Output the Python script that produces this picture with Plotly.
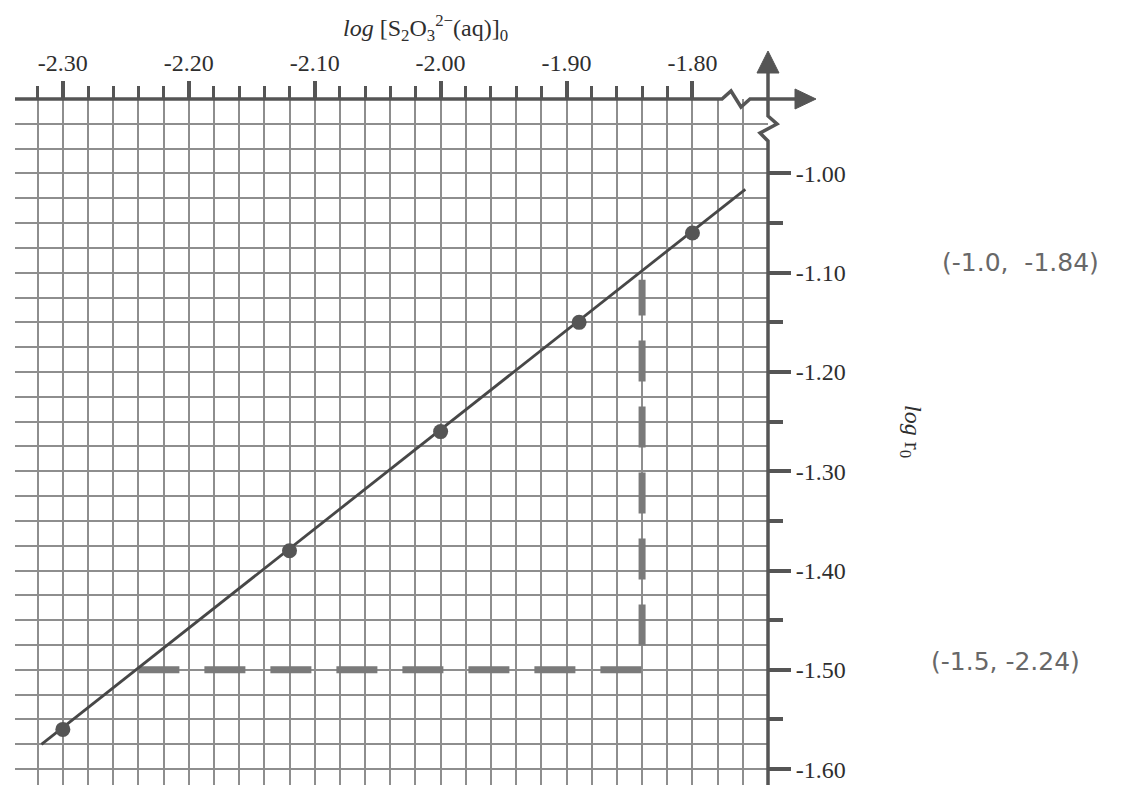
import plotly.graph_objects as go

# ---------------- data ----------------
log_s2o3 = [-2.30, -2.12, -2.00, -1.89, -1.80]      # log [S2O3 2-(aq)]0
log_r0 = [-1.56, -1.38, -1.26, -1.15, -1.06]        # log r0
fit_x = [-2.317, -1.758]                            # best-fit line ends
fit_y = [-1.575, -1.016]
guide_x = [-2.24, -1.84, -1.84]                     # dashed read-off guide
guide_y = [-1.50, -1.50, -1.107]

x_major = [-2.30, -2.20, -2.10, -2.00, -1.90, -1.80]
x_major_text = ["-2.30", "-2.20", "-2.10", "-2.00", "-1.90", "-1.80"]
x_minor = [-2.32, -2.28, -2.26, -2.24, -2.22, -2.18, -2.16, -2.14, -2.12,
           -2.08, -2.06, -2.04, -2.02, -1.98, -1.96, -1.94, -1.92,
           -1.88, -1.86, -1.84, -1.82]
y_major = [-1.00, -1.10, -1.20, -1.30, -1.40, -1.50, -1.60]
y_major_text = ["-1.00", "-1.10", "-1.20", "-1.30", "-1.40", "-1.50", "-1.60"]
y_minor = [-1.05, -1.15, -1.25, -1.35, -1.45, -1.55]

x_title = "<i>log</i> [S<sub>2</sub>O<sub>3</sub><sup>2−</sup>(aq)]<sub>0</sub>"
y_title = "<i>log</i> r<sub>0</sub>"
notes = ["(-1.0,  -1.84)", "(-1.5, -2.24)"]

X_RANGE = [-2.338, -1.74]
Y_RANGE = [-1.616, -0.925]

# ---------------- layout geometry ----------------
# the page body has an 8px margin, so the figure is shifted by that amount
BODY = 8
W, H = 1127, 785                 # window
ML, MR, MT, MB = 15, 359, 99, 0  # plot area in window pixels
PW, PH = W - ML - MR, H - MT - MB


def px(xp):
    return (xp - ML) / PW


def py(yp):
    return (H - MB - yp) / PH


def path(points, close=False):
    s = "M" + " L".join(f"{px(a):.5f},{py(b):.5f}" for a, b in points)
    return s + (" Z" if close else "")


AX = "#555555"
GRID = "#8e8e8e"
TXT = "#2e2e2e"
SERIF = "Liberation Serif"

fig = go.Figure()

# invisible trace to carry the overlay (grid) axes
fig.add_trace(go.Scatter(x=X_RANGE, y=Y_RANGE, xaxis="x2", yaxis="y2",
                         mode="markers", marker=dict(opacity=0),
                         hoverinfo="skip", showlegend=False))

fig.add_trace(go.Scatter(x=guide_x, y=guide_y, mode="lines",
                         line=dict(color="#7a7a7a", width=7, dash="41px,25px"),
                         showlegend=False, hoverinfo="skip"))
fig.add_trace(go.Scatter(x=fit_x, y=fit_y, mode="lines",
                         line=dict(color="#474747", width=2.8),
                         showlegend=False))
fig.add_trace(go.Scatter(x=log_s2o3, y=log_r0, mode="markers",
                         marker=dict(color="#555555", size=15),
                         showlegend=False))

shapes = [
    # x axis with break and arrow
    dict(type="path", path=path([(ML, 99), (722, 99), (731, 91), (741, 107),
                                 (750, 99), (798, 99)]),
         line=dict(color=AX, width=3.5)),
    dict(type="path", path=path([(795, 89), (816, 99), (795, 109)], True),
         fillcolor=AX, line=dict(color=AX, width=1)),
    # y axis with break and arrow
    dict(type="path", path=path([(768, 70), (768, 116), (777, 124), (760, 133),
                                 (768, 141), (768, H)]),
         line=dict(color=AX, width=3.5)),
    dict(type="path", path=path([(757, 73), (768, 51), (779, 73)], True),
         fillcolor=AX, line=dict(color=AX, width=1)),
]
for s in shapes:
    s.update(xref="paper", yref="paper", layer="above")

annotations = [
    dict(text=x_title, x=px(426), y=py(28), xref="paper", yref="paper",
         showarrow=False, font=dict(family=SERIF, size=24, color=TXT),
         xanchor="center", yanchor="middle"),
    dict(text=y_title, x=px(911), y=py(431), xref="paper", yref="paper",
         showarrow=False, textangle=90, font=dict(family=SERIF, size=24, color=TXT),
         xanchor="center", yanchor="middle"),
    dict(text=notes[0], x=px(1021), y=py(263), xref="paper", yref="paper",
         showarrow=False, font=dict(family="DejaVu Sans", size=25, color="#686868"),
         xanchor="center", yanchor="middle"),
    dict(text=notes[1], x=px(1005), y=py(661), xref="paper", yref="paper",
         showarrow=False, font=dict(family="DejaVu Sans", size=25, color="#686868"),
         xanchor="center", yanchor="middle"),
]

fig.update_layout(
    width=W - BODY, height=H - BODY,
    margin=dict(l=ML - BODY, r=MR, t=MT - BODY, b=MB),
    font=dict(family=SERIF, size=24, color=TXT),
    paper_bgcolor="white", plot_bgcolor="white",
    showlegend=False, shapes=shapes, annotations=annotations,
    xaxis=dict(range=X_RANGE, side="top", showgrid=False, zeroline=False,
               showline=False, tickmode="array", tickvals=x_major,
               ticktext=x_major_text, ticks="outside", ticklen=17,
               tickwidth=4, tickcolor=AX,
               tickfont=dict(family=SERIF, size=24, color=TXT),
               minor=dict(tickmode="array", tickvals=x_minor, ticks="outside",
                          ticklen=12, tickwidth=3, tickcolor=AX, showgrid=False)),
    yaxis=dict(range=Y_RANGE, side="right", showgrid=False, zeroline=False,
               showline=False, tickmode="array", tickvals=y_major,
               ticktext=y_major_text, ticks="outside", ticklen=22,
               tickwidth=3.5, tickcolor=AX,
               tickfont=dict(family=SERIF, size=24, color=TXT),
               minor=dict(tickmode="array", tickvals=y_minor, ticks="outside",
                          ticklen=14, tickwidth=3.5, tickcolor=AX, showgrid=False)),
    xaxis2=dict(range=X_RANGE, overlaying="x", side="top", showgrid=True,
                tick0=-2.30, dtick=0.02, gridcolor=GRID, gridwidth=1.6,
                showticklabels=False, ticks="", zeroline=False, showline=False),
    yaxis2=dict(range=Y_RANGE, overlaying="y", side="right", showgrid=True,
                tick0=-1.00, dtick=0.025, gridcolor=GRID, gridwidth=1.6,
                showticklabels=False, ticks="", zeroline=False, showline=False),
)

fig.write_html("out.html")
